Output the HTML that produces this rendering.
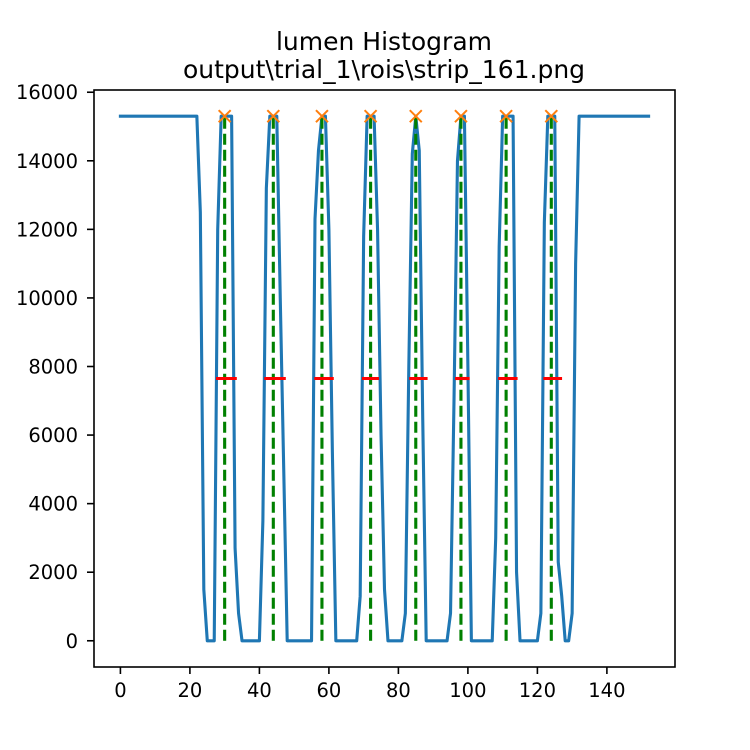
<!DOCTYPE html>
<html><head><meta charset="utf-8"><style>
html,body{margin:0;padding:0;background:#fff}
svg{display:block;font-family:"DejaVu Sans","Liberation Sans",sans-serif}
</style></head><body>
<svg id="chart" width="750" height="750" viewBox="0 0 750 750">
<rect width="750" height="750" fill="#fff"/>
<text x="384" y="50" font-size="25" text-anchor="middle">lumen Histogram</text>
<text x="384" y="78" font-size="25" text-anchor="middle">output\trial_1\rois\strip_161.png</text>
<g id="plot"></g>
</svg>
<script>
const xTicks = [0,20,40,60,80,100,120,140];
const yTicks = [0,2000,4000,6000,8000,10000,12000,14000,16000];
const lumenValues = [
15300,15300,15300,15300,15300,15300,15300,15300,15300,15300,
15300,15300,15300,15300,15300,15300,15300,15300,15300,15300,
15300,15300,15300,12500,1500,0,0,0,12000,15300,
15300,15300,15300,2700,800,0,0,0,0,0,
0,3500,13200,15300,15300,15300,10000,5000,0,0,
0,0,0,0,0,0,12300,14300,15300,15300,
12000,5500,0,0,0,0,0,0,0,1300,
11800,15300,15300,15300,12000,6000,1500,0,0,0,
0,0,800,8000,14200,15300,14300,6500,0,0,
0,0,0,0,0,800,7000,14000,15300,15300,
8000,0,0,0,0,0,0,0,3000,11500,
15300,15300,15300,15300,2000,0,0,0,0,0,
0,800,12200,15300,15300,15300,2300,1300,0,0,
800,11000,15300,15300,15300,15300,15300,15300,15300,15300,
15300,15300,15300,15300,15300,15300,15300,15300,15300,15300,
15300,15300,15300
];
const peakX = [30,44,58,72,85,98,111,124];
const peakY = [15300,15300,15300,15300,15300,15300,15300,15300];
const widthHeight = [7650,7650,7650,7650,7650,7650,7650,7650];
const widthLeft = [27.5,41.4,55.8,69.5,83.1,96.3,108.7,121.7];
const widthRight = [33.5,47.6,61.4,74.4,88.4,100.5,114.3,127.1];

const AX = {l:94, r:675, t:90, b:667};
const xMin=-7.6, xMax=159.6, yMin=-765, yMax=16065;
const sx = v => AX.l + (v-xMin)/(xMax-xMin)*(AX.r-AX.l);
const sy = v => AX.b - (v-yMin)/(yMax-yMin)*(AX.b-AX.t);
const NS="http://www.w3.org/2000/svg";
const g=document.getElementById('plot');
function mk(tag, attrs){const e=document.createElementNS(NS,tag);for(const k in attrs)e.setAttribute(k,attrs[k]);g.appendChild(e);return e;}

let d=lumenValues.map((v,i)=>(i?'L':'M')+sx(i).toFixed(2)+','+sy(v).toFixed(2)).join(' ');
const line=mk('path',{d:d,fill:'none',stroke:'#1f77b4','stroke-width':3.1,'stroke-linejoin':'round','stroke-linecap':'square'});



peakX.forEach((p,i)=>{
  const e=mk('line',{x1:sx(p),x2:sx(p),y1:sy(0),y2:sy(peakY[i]),stroke:'#008000','stroke-width':3.1,'stroke-dasharray':'11 5'});
  
  
});
widthLeft.forEach((l,i)=>{
  const e=mk('line',{x1:sx(l),x2:sx(widthRight[i]),y1:sy(widthHeight[i]),y2:sy(widthHeight[i]),stroke:'#ff0000','stroke-width':3.1});
  
  
});
peakX.forEach((p,i)=>{
  const cx=sx(p), cy=sy(peakY[i]), s=6;
  const e=mk('path',{d:`M${cx-s},${cy-s}L${cx+s},${cy+s}M${cx-s},${cy+s}L${cx+s},${cy-s}`,stroke:'#ff7f0e','stroke-width':2,fill:'none'});
  
  
});
const frame=mk('rect',{x:AX.l,y:AX.t,width:AX.r-AX.l,height:AX.b-AX.t,fill:'none',stroke:'#000','stroke-width':1.6});


xTicks.forEach(t=>{
  const x=sx(t);
  const tk=mk('line',{x1:x,x2:x,y1:AX.b,y2:AX.b+7,stroke:'#000','stroke-width':1.6});
  
  
  const tx=mk('text',{x:x,y:697,'font-size':19.5,'text-anchor':'middle'});
  tx.textContent=t;
  
  
});
yTicks.forEach(t=>{
  const y=sy(t);
  const tk=mk('line',{x1:AX.l-7,x2:AX.l,y1:y,y2:y,stroke:'#000','stroke-width':1.6});
  
  
  const tx=mk('text',{x:78,y:y+7,'font-size':19.5,'text-anchor':'end'});
  tx.textContent=t;
  
  
});
</script>
</body></html>
